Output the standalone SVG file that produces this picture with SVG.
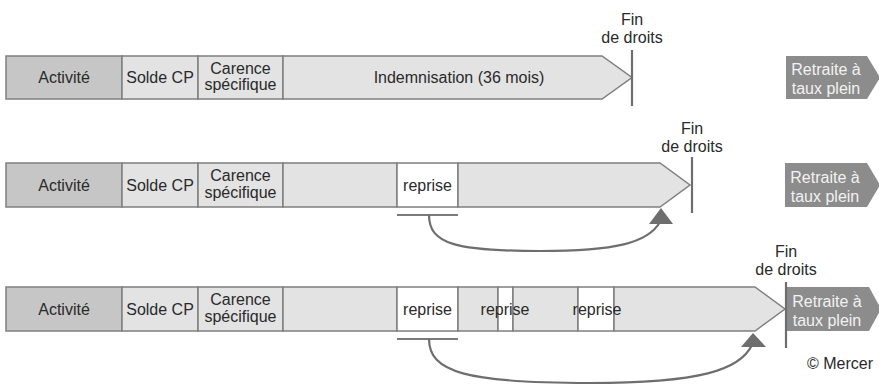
<svg xmlns="http://www.w3.org/2000/svg" width="879" height="387" viewBox="0 0 879 387">
<style>
  text { font-family: "Liberation Sans", Arial, sans-serif; font-size: 16px; fill: #2a2a2a; text-anchor: middle; }
  .act { fill: #c6c6c6; stroke: #7f7f7f; stroke-width: 1.5; }
  .seg { fill: #e3e3e3; stroke: #7f7f7f; stroke-width: 1.5; }
  .rep { fill: #ffffff; stroke: #7f7f7f; stroke-width: 1.5; }
  .ret { fill: #8c8c8c; }
  .rett { fill: #f2f2f2; }
  .fin { stroke: #6e6e6e; stroke-width: 2.2; fill: none; }
  .under { stroke: #7a7a7a; stroke-width: 2; fill: none; }
  .curve { stroke: #6e6e6e; stroke-width: 2.2; fill: none; }
  .head { fill: #6e6e6e; }
</style>
<rect width="879" height="387" fill="#ffffff"/>

<!-- Row 1 -->
<g id="r1-activite"><rect class="act" x="6" y="56" width="116" height="43"/><text x="64" y="83">Activité</text></g>
<g id="r1-solde"><rect class="seg" x="122" y="56" width="76" height="43"/><text x="160" y="83">Solde CP</text></g>
<g id="r1-carence"><rect class="seg" x="198" y="56" width="85" height="43"/><text x="240.5" y="73.5">Carence</text><text x="240.5" y="90">spécifique</text></g>
<g id="r1-indemnisation"><polygon class="seg" points="283,56 602,56 632,77.5 602,99 283,99"/><text x="459" y="83">Indemnisation (36 mois)</text></g>
<g id="r1-fin"><text x="632" y="25">Fin</text><text x="632" y="43">de droits</text></g>
<g id="r1-retraite"><polygon class="ret" points="786,56 867,56 880,77.5 867,99 786,99"/><text class="rett" x="826" y="75">Retraite à</text><text class="rett" x="826" y="94">taux plein</text></g>

<!-- Row 2 -->
<g id="r2-activite"><rect class="act" x="6" y="163" width="116" height="44"/><text x="64" y="190.5">Activité</text></g>
<g id="r2-solde"><rect class="seg" x="122" y="163" width="76" height="44"/><text x="160" y="190.5">Solde CP</text></g>
<g id="r2-carence"><rect class="seg" x="198" y="163" width="85" height="44"/><text x="240.5" y="181">Carence</text><text x="240.5" y="197.5">spécifique</text></g>
<g id="r2-indem1"><rect class="seg" x="283" y="163" width="114" height="44"/></g>
<g id="r2-reprise"><rect class="rep" x="397" y="163" width="61" height="44"/><text x="427.5" y="190.5">reprise</text></g>
<g id="r2-indem2"><polygon class="seg" points="458,163 660,163 690,185 660,207 458,207"/></g>
<g id="r2-fin"><text x="692" y="134">Fin</text><text x="692" y="152">de droits</text></g>
<g id="r2-retraite"><polygon class="ret" points="785,163 867,163 880,185 867,207 785,207"/><text class="rett" x="825" y="182.5">Retraite à</text><text class="rett" x="825" y="201.5">taux plein</text></g>

<!-- Row 3 -->
<g id="r3-activite"><rect class="act" x="6" y="287" width="116" height="44"/><text x="64" y="314.5">Activité</text></g>
<g id="r3-solde"><rect class="seg" x="122" y="287" width="76" height="44"/><text x="160" y="314.5">Solde CP</text></g>
<g id="r3-carence"><rect class="seg" x="198" y="287" width="85" height="44"/><text x="240.5" y="305">Carence</text><text x="240.5" y="321.5">spécifique</text></g>
<g id="r3-indem1"><rect class="seg" x="283" y="287" width="114" height="44"/></g>
<g id="r3-reprise1"><rect class="rep" x="397" y="287" width="61" height="44"/><text x="427.5" y="314.5">reprise</text></g>
<g id="r3-indem2"><rect class="seg" x="458" y="287" width="40" height="44"/></g>
<g id="r3-reprise2"><rect class="rep" x="498" y="287" width="15" height="44"/></g>
<g id="r3-indem3"><rect class="seg" x="513" y="287" width="65" height="44"/></g>
<g id="r3-reprise3"><rect class="rep" x="578" y="287" width="36" height="44"/></g>
<g id="r3-indem4"><polygon class="seg" points="614,287 755,287 785,309 755,331 614,331"/></g>
<g id="r3-labels"><text x="505" y="314.5">reprise</text><text x="597" y="314.5">reprise</text></g>
<g id="r3-fin"><text x="786" y="257">Fin</text><text x="786" y="275">de droits</text></g>
<g id="r3-retraite"><polygon class="ret" points="786,287 869,287 881,309 869,331 786,331"/><text class="rett" x="827" y="306.5">Retraite à</text><text class="rett" x="827" y="325.5">taux plein</text></g>

<!-- Connectors -->
<g id="connectors">
  <line class="fin" x1="632" y1="50" x2="632" y2="106"/>
  <line class="fin" x1="692" y1="157" x2="692" y2="213"/>
  <line class="fin" x1="786" y1="282" x2="786" y2="348"/>
  <line class="under" x1="397" y1="215" x2="458" y2="215"/>
  <line class="under" x1="397" y1="339" x2="458" y2="339"/>
  <path class="curve" d="M429,215 C429,244 456,251 540,251 C615,251 648,243 660,222"/>
  <polygon class="head" points="661,208 649,224 673,224"/>
  <path class="curve" d="M429,339 C429,372 466,383 590,383 C700,383 740,370 752,345"/>
  <polygon class="head" points="753,333 741,347 766,347"/>
</g>

<text x="873" y="369" style="text-anchor:end">© Mercer</text>
</svg>
